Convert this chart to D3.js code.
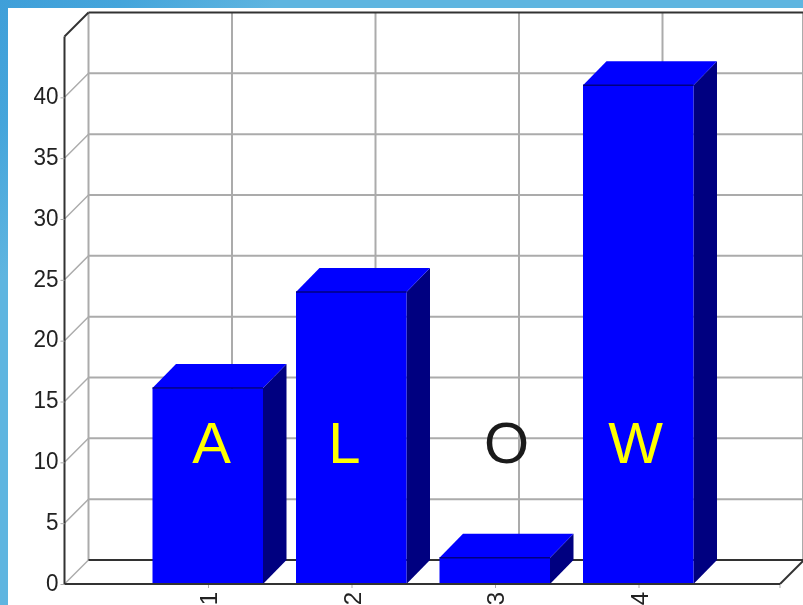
<!DOCTYPE html>
<html>
<head>
<meta charset="utf-8">
<script src="https://cdn.jsdelivr.net/npm/d3@7"></script>
<style>
html, body { margin: 0; padding: 0; background: #fff; overflow: hidden; }
svg { display: block; }
</style>
</head>
<body>
<script>
var categories = [1, 2, 3, 4]
var values = [16.1, 24, 2.15, 41]
var letters = ["A", "L", "O", "W"]
var letterColors = ["#ffff00", "#ffff00", "#1a1a1a", "#ffff00"]
var letterX = [0.025, -0.05, 0.08, -0.02]
var yTicks = [0, 5, 10, 15, 20, 25, 30, 35, 40]

var width = 803, height = 605, depth = 24, barDepth = 23.5, barWidth = 110.5, frameRight = 780

var x = d3.scaleLinear().domain([0, 5]).range([64.5, 782])
var y = d3.scaleLinear().domain([0, 45]).range([584, 36.5])

var svg = d3.select("body").append("svg")
    .attr("width", width)
    .attr("height", height)

var defs = svg.append("defs")
var grad = defs.append("linearGradient")
    .attr("id", "bg")
    .attr("gradientUnits", "userSpaceOnUse")
    .attr("x1", 0).attr("y1", 0)
    .attr("x2", 140).attr("y2", 140)
grad.append("stop").attr("offset", 0).attr("stop-color", "#3f9fd9")
grad.append("stop").attr("offset", 0.45).attr("stop-color", "#45a5db")
grad.append("stop").attr("offset", 1).attr("stop-color", "#5fb5e0")

defs.append("filter").attr("id", "soft")
    .append("feGaussianBlur").attr("stdDeviation", 0.6)

// window background behind the white plot page
svg.append("rect").attr("width", width).attr("height", height).attr("fill", "url(#bg)")
svg.append("rect").attr("x", 8).attr("y", 8).attr("width", width - 8).attr("height", height - 8).attr("fill", "#fff")

var chart = svg.append("g").attr("filter", "url(#soft)")

var grey = "#ababab", dark = "#333"

function line(p, x1, y1, x2, y2, color, w) {
    p.append("line")
        .attr("x1", x1).attr("y1", y1)
        .attr("x2", x2).attr("y2", y2)
        .attr("stroke", color)
        .attr("stroke-width", w)
}

// back wall grid
yTicks.slice(1).forEach(function(t) {
    line(chart, x(0) + depth, y(t) - depth, width, y(t) - depth, grey, 2)
})
categories.forEach(function(c) {
    line(chart, x(c) + depth, y(45) - depth, x(c) + depth, y(0) - depth, grey, 2)
})
line(chart, frameRight + depth - 1, y(45) - depth, frameRight + depth - 1, y(0) - depth, grey, 2)
line(chart, x(0) + depth, y(45) - depth, x(0) + depth, y(0) - depth, grey, 2)

// side wall grid
yTicks.forEach(function(t) {
    line(chart, x(0), y(t), x(0) + depth, y(t) - depth, grey, 1.5)
})

// frame
line(chart, x(0), y(45), x(0), y(0), dark, 2)
line(chart, x(0), y(45), x(0) + depth, y(45) - depth, dark, 2)
line(chart, x(0) + depth, y(45) - depth, width, y(45) - depth, dark, 2)
line(chart, x(0) + depth, y(0) - depth, width, y(0) - depth, dark, 2)
line(chart, frameRight, y(0), frameRight + depth, y(0) - depth, dark, 2)

// axes, labels and tick marks only
var yAxis = d3.axisLeft(y).tickValues(yTicks).tickSize(4).tickPadding(2)
var xAxis = d3.axisBottom(x).tickValues(categories).tickSize(4).tickFormat(d3.format("d"))

var gy = chart.append("g").attr("transform", "translate(" + x(0) + ",0)").call(yAxis)
var gx = chart.append("g").attr("transform", "translate(0," + y(0) + ")").call(xAxis)

gy.selectAll(".domain").remove()
gx.selectAll(".domain").remove()
gy.selectAll("line").attr("stroke", grey)
gx.selectAll("line").attr("stroke", grey)
line(chart, frameRight, y(0), frameRight, y(0) + 4, grey, 1)

gy.selectAll("text")
    .attr("font-family", "'Liberation Sans', Arial, sans-serif")
    .attr("font-size", 24)
    .attr("fill", "#222")
    .attr("dy", "0.26em")
    .attr("textLength", function(d) { return d < 10 ? 12.5 : 25 })
    .attr("lengthAdjust", "spacingAndGlyphs")
gx.selectAll("text")
    .attr("font-family", "'Liberation Sans', Arial, sans-serif")
    .attr("font-size", 24)
    .attr("fill", "#222")
    .attr("text-anchor", "end")
    .attr("dy", "0.36em")
    .attr("transform", "rotate(-90)")
    .attr("x", -8)
    .attr("y", 0)

// bars
var bars = chart.selectAll("g.bar")
    .data(values)
    .enter().append("g")
    .attr("class", "bar")

function barLeft(i) { return x(categories[i]) - 55.5 }

function poly(pts) { return pts.map(function(p) { return p.join(",") }).join(" ") }

bars.append("polygon")
    .attr("fill", "#000080")
    .attr("points", function(d, i) {
        var r = barLeft(i) + barWidth
        return poly([[r, y(d)], [r + barDepth, y(d) - depth], [r + barDepth, y(0) - depth], [r, y(0)]])
    })

bars.append("polygon")
    .attr("fill", "#0000ff")
    .attr("points", function(d, i) {
        var l = barLeft(i), r = l + barWidth
        return poly([[l, y(d)], [l + barDepth, y(d) - depth], [r + barDepth, y(d) - depth], [r, y(d)]])
    })

bars.append("rect")
    .attr("fill", "#0000ff")
    .attr("x", function(d, i) { return barLeft(i) })
    .attr("y", function(d) { return y(d) })
    .attr("width", barWidth)
    .attr("height", function(d) { return y(0) - y(d) })

bars.append("line")
    .attr("stroke", "#000080")
    .attr("stroke-width", 1.5)
    .attr("x1", function(d, i) { return barLeft(i) })
    .attr("x2", function(d, i) { return barLeft(i) + barWidth })
    .attr("y1", function(d) { return y(d) })
    .attr("y2", function(d) { return y(d) })

line(chart, x(0), y(0), frameRight, y(0), dark, 2)

// letters laid over the chart
svg.selectAll("text.letter")
    .data(letters)
    .enter().append("text")
    .attr("class", "letter")
    .attr("x", function(d, i) { return x(categories[i] + letterX[i]) })
    .attr("y", 463)
    .attr("text-anchor", "middle")
    .attr("font-family", "'Liberation Sans', Arial, sans-serif")
    .attr("font-size", 58)
    .attr("fill", function(d, i) { return letterColors[i] })
    .text(function(d) { return d })
</script>
</body>
</html>
